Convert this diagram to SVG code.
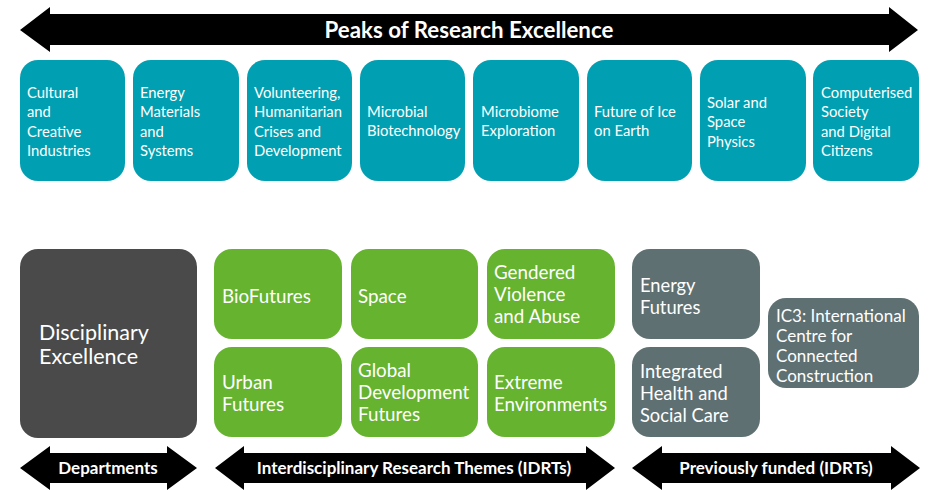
<svg xmlns="http://www.w3.org/2000/svg" width="931" height="490" viewBox="0 0 931 490">
<style>
text{font-family:Lato,"Liberation Sans",sans-serif;fill:#fff}
.t{fill:#009FB1}
.g{fill:#66B32F}
.s{fill:#5E7072}
.d{fill:#4A4A4A}
.tt{font-size:14.8px}
.gt{font-size:18.8px}
.st{font-size:18.3px}
.it{font-size:17px}
.arr{fill:#000}
.al{font-size:17px;font-weight:bold;text-anchor:middle}
.big{font-size:22.3px;font-weight:bold;text-anchor:middle}
</style>
<g id="connectors">
<g id="arrow-peaks"><polygon class="arr" points="20,30 50,7 50,14 889,14 889,7 918,30 889,52 889,45 50,45 50,52"/><text class="big" x="469" y="38">Peaks of Research Excellence</text></g>
<g id="arrow-departments"><polygon class="arr" points="20,468 50,446 50,453 167,453 167,446 197,468 167,490 167,483 50,483 50,490"/><text class="al" x="108" y="474">Departments</text></g>
<g id="arrow-idrts"><polygon class="arr" points="215,468 244,446 244,453 586,453 586,446 615,468 586,490 586,483 244,483 244,490"/><text class="al" x="414" y="474">Interdisciplinary Research Themes (IDRTs)</text></g>
<g id="arrow-previous"><polygon class="arr" points="632,468 662,446 662,453 891,453 891,446 920,468 891,490 891,483 662,483 662,490"/><text class="al" x="776" y="474">Previously funded (IDRTs)</text></g>
</g>
<g id="peak1"><rect class="t" x="20" y="60" width="105" height="121" rx="18"/><text class="tt" x="27" y="98">Cultural<tspan x="27" dy="19.3">and</tspan><tspan x="27" dy="19.3">Creative</tspan><tspan x="27" dy="19.3">Industries</tspan></text></g>
<g id="peak2"><rect class="t" x="133" y="60" width="106" height="121" rx="18"/><text class="tt" x="140" y="98">Energy<tspan x="140" dy="19.3">Materials</tspan><tspan x="140" dy="19.3">and</tspan><tspan x="140" dy="19.3">Systems</tspan></text></g>
<g id="peak3"><rect class="t" x="247" y="60" width="105" height="121" rx="18"/><text class="tt" x="254" y="98">Volunteering,<tspan x="254" dy="19.3">Humanitarian</tspan><tspan x="254" dy="19.3">Crises and</tspan><tspan x="254" dy="19.3">Development</tspan></text></g>
<g id="peak4"><rect class="t" x="360" y="60" width="105" height="121" rx="18"/><text class="tt" x="367" y="117">Microbial<tspan x="367" dy="19.3">Biotechnology</tspan></text></g>
<g id="peak5"><rect class="t" x="473" y="60" width="106" height="121" rx="18"/><text class="tt" x="481" y="117">Microbiome<tspan x="481" dy="19.3">Exploration</tspan></text></g>
<g id="peak6"><rect class="t" x="587" y="60" width="105" height="121" rx="18"/><text class="tt" x="594" y="117">Future of Ice<tspan x="594" dy="19.3">on Earth</tspan></text></g>
<g id="peak7"><rect class="t" x="700" y="60" width="106" height="121" rx="18"/><text class="tt" x="707" y="108">Solar and<tspan x="707" dy="19.3">Space</tspan><tspan x="707" dy="19.3">Physics</tspan></text></g>
<g id="peak8"><rect class="t" x="813" y="60" width="106" height="121" rx="18"/><text class="tt" x="821" y="98">Computerised<tspan x="821" dy="19.3">Society</tspan><tspan x="821" dy="19.3">and Digital</tspan><tspan x="821" dy="19.3">Citizens</tspan></text></g>
<g id="disciplinary"><rect class="d" x="20" y="249" width="177" height="189" rx="18"/><text x="39" y="340" style="font-size:21.5px">Disciplinary<tspan x="39" dy="24">Excellence</tspan></text></g>
<g id="biofutures"><rect class="g" x="214" y="249" width="128" height="90" rx="18"/><text class="gt" x="222" y="303">BioFutures</text></g>
<g id="space"><rect class="g" x="351" y="249" width="127" height="90" rx="18"/><text class="gt" x="358" y="303">Space</text></g>
<g id="gendered"><rect class="g" x="487" y="249" width="128" height="90" rx="18"/><text class="gt" x="494" y="279">Gendered<tspan x="494" dy="22">Violence</tspan><tspan x="494" dy="22">and Abuse</tspan></text></g>
<g id="urban"><rect class="g" x="214" y="347" width="128" height="90" rx="18"/><text class="gt" x="222" y="389">Urban<tspan x="222" dy="22">Futures</tspan></text></g>
<g id="global"><rect class="g" x="351" y="347" width="127" height="90" rx="18"/><text class="gt" x="358" y="377">Global<tspan x="358" dy="22">Development</tspan><tspan x="358" dy="22">Futures</tspan></text></g>
<g id="extreme"><rect class="g" x="487" y="347" width="128" height="90" rx="18"/><text class="gt" x="494" y="389">Extreme<tspan x="494" dy="22">Environments</tspan></text></g>
<g id="energy"><rect class="s" x="632" y="249" width="128" height="90" rx="18"/><text class="st" x="640" y="292">Energy<tspan x="640" dy="22">Futures</tspan></text></g>
<g id="integrated"><rect class="s" x="632" y="347" width="128" height="90" rx="18"/><text class="st" x="640" y="378">Integrated<tspan x="640" dy="22">Health and</tspan><tspan x="640" dy="22">Social Care</tspan></text></g>
<g id="ic3"><rect class="s" x="768" y="298" width="151" height="90" rx="18"/><text class="it" x="776" y="322">IC3: International<tspan x="776" dy="20">Centre for</tspan><tspan x="776" dy="20">Connected</tspan><tspan x="776" dy="20">Construction</tspan></text></g>
</svg>
